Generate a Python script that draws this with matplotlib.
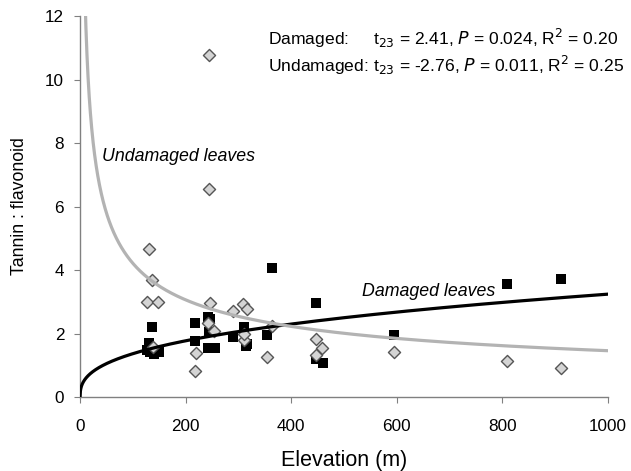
import numpy as np
import matplotlib
matplotlib.use("Agg")
import matplotlib.pyplot as plt

plt.rcParams['font.family'] = ['Liberation Sans', 'DejaVu Sans']

# Damaged leaves (black squares)
dam_x = [126, 131, 133, 136, 140, 150, 218, 218, 243, 245, 246, 243, 256, 290,
         311, 314, 316, 355, 364, 447, 447, 460, 595, 809, 912]
dam_y = [1.48, 1.69, 1.42, 2.22, 1.37, 1.43, 2.34, 1.77, 2.53, 2.06, 2.45, 1.53, 1.53, 1.88,
         2.22, 1.60, 1.68, 1.95, 4.05, 2.95, 1.19, 1.06, 1.95, 3.56, 3.71]

# Undamaged leaves (grey diamonds)
und_x = [131, 136, 126, 148, 139, 244, 244, 246, 290, 309, 317, 243, 254, 311,
         311, 220, 218, 355, 363, 447, 459, 447, 595, 809, 912]
und_y = [4.65, 3.68, 3.00, 3.00, 1.58, 10.77, 6.54, 2.97, 2.72, 2.93, 2.76, 2.32, 2.09, 1.80,
         2.00, 1.40, 0.83, 1.27, 2.24, 1.82, 1.56, 1.32, 1.43, 1.14, 0.93]

# fitted power curves y = a * x^b
dam_a, dam_b = 3.24 / 1000 ** 0.375, 0.375
und_a, und_b = 1.46 * 1000 ** 0.46, -0.46

fig = plt.figure(figsize=(6.31, 4.71), dpi=100)
ax = fig.add_axes([0.127, 0.157, 0.836, 0.809])

ax.scatter(dam_x, dam_y, marker='s', s=44, color='black', zorder=3, linewidths=0)
ax.scatter(und_x, und_y, marker='D', s=38, facecolor='#d4d4d4', edgecolor='#555555',
           linewidths=1.0, zorder=4)

xc = np.linspace(0.01, 1000, 4000)
ax.plot(xc, dam_a * xc ** dam_b, color='black', lw=2.3, zorder=5)
xu = np.linspace(5, 1000, 4000)
ax.plot(xu, und_a * xu ** und_b, color='#b3b3b3', lw=2.3, zorder=5)

ax.set_xlim(0, 1000)
ax.set_ylim(0, 12)
ax.set_xticks(range(0, 1001, 200))
ax.set_yticks(range(0, 13, 2))
for s in ['top', 'right']:
    ax.spines[s].set_visible(False)
for s in ['left', 'bottom']:
    ax.spines[s].set_color('#808080')
    ax.spines[s].set_linewidth(1.0)
ax.tick_params(direction='out', length=4.5, color='#808080', labelsize=12.3)
ax.tick_params(axis='x', pad=11)
ax.tick_params(axis='y', pad=7)

ax.set_xlabel('Elevation (m)', fontsize=15.5, labelpad=11.5)
ax.set_ylabel('Tannin : flavonoid', fontsize=12.8, labelpad=12)

ax.text(42, 7.56, 'Undamaged leaves', style='italic', fontsize=12.8, va='center')
ax.text(534, 3.32, 'Damaged leaves', style='italic', fontsize=12.8, va='center')

ax.text(356, 11.09, r'Damaged:     t$_{23}$ = 2.41, $P$ = 0.024, R$^2$ = 0.20',
        fontsize=12.6, va='baseline')
ax.text(356, 10.25, r'Undamaged: t$_{23}$ = -2.76, $P$ = 0.011, R$^2$ = 0.25',
        fontsize=12.6, va='baseline')

fig.savefig('out.png', dpi=100)
